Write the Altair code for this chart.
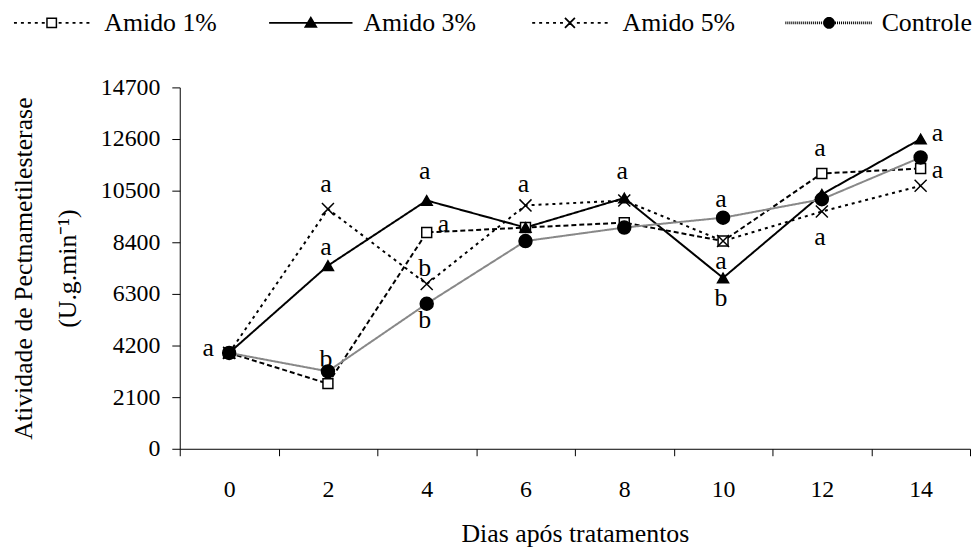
import math
import altair as alt
import pandas as pd

# ---------------- data ----------------
days = [0, 2, 4, 6, 8, 10, 12, 14]
series_names = ["Amido 1%", "Amido 3%", "Amido 5%", "Controle"]
amido1 = [3900, 2650, 8800, 9000, 9200, 8450, 11200, 11400]
amido3 = [3900, 7450, 10100, 9000, 10200, 6950, 10350, 12600]
amido5 = [3900, 9750, 6700, 9900, 10100, 8450, 9650, 10700]
controle = [3900, 3150, 5900, 8450, 9000, 9400, 10150, 11850]

y_ticks = [0, 2100, 4200, 6300, 8400, 10500, 12600, 14700]
x_tick_edges = [-1, 1, 3, 5, 7, 9, 11, 13, 15]

# significance letters: day, height (data units), letter, side of the point
ann_day = [0, 2, 2, 2, 4, 4, 4, 4, 6, 8, 10, 10, 10, 12, 12, 14, 14]
ann_value = [4100, 10770, 8190, 3630, 11300, 9150, 7340, 5250, 10770, 11300,
             10160, 7640, 6130, 12250, 8610, 12850, 11340]
ann_text = ["a", "a", "a", "b", "a", "a", "b", "b", "a", "a",
            "a", "a", "b", "a", "a", "a", "a"]
ann_side = ["left", "center", "center", "center", "center", "right", "center",
            "center", "center", "center", "center", "center", "center",
            "center", "center", "right", "right"]

# ---------------- tables ----------------
values_by_series = [amido1, amido3, amido5, controle]
df = pd.DataFrame(
    [
        {"dia": d, "valor": v, "serie": s}
        for s, vals in zip(series_names, values_by_series)
        for d, v in zip(days, vals)
    ]
)
ann = pd.DataFrame({"dia": ann_day, "valor": ann_value, "letra": ann_text, "lado": ann_side})

# ---------------- style ----------------
FONT = "Liberation Serif"
W, H = 796, 364
GRAY = "#888888"

# legend symbols (line sample + marker) as filled custom paths, unit = 45 px
U = 45.0


def P(v):
    return f"{v / U:.4f}"


def poly(pts):
    return "M" + "L".join(f"{P(x)},{P(y)}" for x, y in pts) + "Z"


def rect(x0, x1, y0, y1):
    return poly([(x0, y0), (x1, y0), (x1, y1), (x0, y1)])


def rect_ccw(x0, x1, y0, y1):
    return poly([(x0, y0), (x0, y1), (x1, y1), (x1, y0)])


def dashed(half, skip, dash, gap, t=1.0):
    out = []
    for sgn in (-1, 1):
        x = skip + 2
        while x + dash <= half:
            a, b = sgn * x, sgn * (x + dash)
            out.append(rect(min(a, b), max(a, b), -t, t))
            x += dash + gap
    return "".join(out)


def hatch(half, skip, t=1.5):
    out = []
    x = -half
    while x < half:
        if x + 1 <= -skip or x >= skip:
            out.append(rect(x, x + 1, -t, t))
        x += 2
    return "".join(out)


def diag(x0, y0, x1, y1, t=0.9):
    dx, dy = x1 - x0, y1 - y0
    n = math.hypot(dx, dy)
    ox, oy = -dy / n * t, dx / n * t
    return poly([(x0 + ox, y0 + oy), (x1 + ox, y1 + oy), (x1 - ox, y1 - oy), (x0 - ox, y0 - oy)])


sq_ring = rect(-5.5, 5.5, -5.5, 5.5) + rect_ccw(-4, 4, -4, 4)
tri = poly([(0, -7), (7, 5), (-7, 5)])
xx = diag(-5, -5, 5, 5) + diag(5, -5, -5, 5)
circ = poly([(6 * math.cos(2 * math.pi * k / 24), 6 * math.sin(2 * math.pi * k / 24)) for k in range(24)])

legend_paths = [
    dashed(41, 5, 3, 4) + sq_ring,
    rect(-42, 42, -1, 1) + tri,
    dashed(42, 5, 3, 4) + xx,
    hatch(44, 5) + circ,
]

x_scale = alt.Scale(domain=[-1, 15], nice=False, zero=False)
y_scale = alt.Scale(domain=[0, 14700], nice=False)

x_axis = alt.Axis(
    values=x_tick_edges,
    labelExpr="datum.value < 15 ? toString(datum.value + 1) : ''",
    labelOffset=W / 16,
    labelFlush=False,
    labelFont=FONT, labelFontSize=24, labelColor="black", labelPadding=22,
    tickSize=7, tickColor="black", domainColor="black", grid=False,
    title="Dias após tratamentos", titleFont=FONT, titleFontSize=26,
    titleFontWeight="normal", titleColor="black",
    titleY=93, titleBaseline="alphabetic",
)
y_axis = alt.Axis(
    values=y_ticks, format="d",
    labelFont=FONT, labelFontSize=24, labelColor="black", labelPadding=12,
    tickSize=8, tickColor="black", domainColor="black", grid=False,
    title=["Atividade de Pectnametilesterase", "(U.g.min⁻¹)"],
    titleFont=FONT, titleFontSize=26, titleFontWeight="normal", titleColor="black",
    titleAngle=270, titleAlign="center", titleBaseline="middle",
    titleX=-157, titleLineHeight=44,
)

X = alt.X("dia:Q", scale=x_scale, axis=x_axis)
Y = alt.Y("valor:Q", scale=y_scale, axis=y_axis)

base = alt.Chart(df)

lines = base.mark_line().encode(
    x=X, y=Y,
    color=alt.Color("serie:N", scale=alt.Scale(domain=series_names, range=["black", "black", "black", GRAY]), legend=None),
    strokeDash=alt.StrokeDash("serie:N", scale=alt.Scale(domain=series_names, range=[[5, 3], [1, 0], [3, 4], [1, 0]]), legend=None),
    strokeWidth=alt.StrokeWidth("serie:N", scale=alt.Scale(domain=series_names, range=[2, 2, 2, 2.8]), legend=None),
)

points = base.mark_point(opacity=1, strokeWidth=1.5, stroke="black").encode(
    x=X, y=Y,
    shape=alt.Shape("serie:N", scale=alt.Scale(domain=series_names, range=["square", "triangle-up", "M-1,-1L1,1M1,-1L-1,1", "circle"]), legend=None),
    fill=alt.Fill("serie:N", scale=alt.Scale(domain=series_names, range=["white", "black", "transparent", "black"]), legend=None),
    size=alt.Size("serie:N", scale=alt.Scale(domain=series_names, range=[100, 170, 150, 95]), legend=None),
)


def make_legend():
    return alt.Legend(
        title=None, orient="none", direction="horizontal", columns=4,
        legendX=-174, legendY=-110, padding=0,
        symbolSize=8100, symbolStrokeWidth=0, symbolOffset=0,
        labelFont=FONT, labelFontSize=26, labelColor="black", labelOffset=8,
        labelLimit=300, columnPadding=49,
    )


legend_layer = base.transform_filter("false").mark_point(opacity=1, size=8100, filled=True).encode(
    x=X, y=Y,
    shape=alt.Shape("serie:N", scale=alt.Scale(domain=series_names, range=legend_paths), legend=make_legend()),
    fill=alt.Fill("serie:N", scale=alt.Scale(domain=series_names, range=["black", "black", "black", "black"]), legend=make_legend()),
)

ann_base = alt.Chart(ann)


def ann_layer(side, dx):
    return ann_base.transform_filter(alt.datum.lado == side).mark_text(
        font=FONT, fontSize=26, baseline="middle", align="center", dx=dx, color="black"
    ).encode(x=alt.X("dia:Q", scale=x_scale), y=alt.Y("valor:Q", scale=y_scale), text="letra:N")


ann_c = ann_layer("center", -2)
ann_l = ann_layer("left", -21)
ann_r = ann_layer("right", 17)

chart = (
    alt.layer(lines, points, legend_layer, ann_c, ann_l, ann_r)
    .resolve_scale(shape="independent", fill="independent", size="independent")
    .properties(
        width=W, height=H,
        autosize=alt.AutoSizeParams(type="none"),
        padding={"left": 173, "top": 78, "right": 2, "bottom": 104},
        background="white",
    )
    .configure(font=FONT)
    .configure_view(strokeWidth=0)
)

chart.save("out.html", embed_options={"renderer": "svg", "actions": False})
